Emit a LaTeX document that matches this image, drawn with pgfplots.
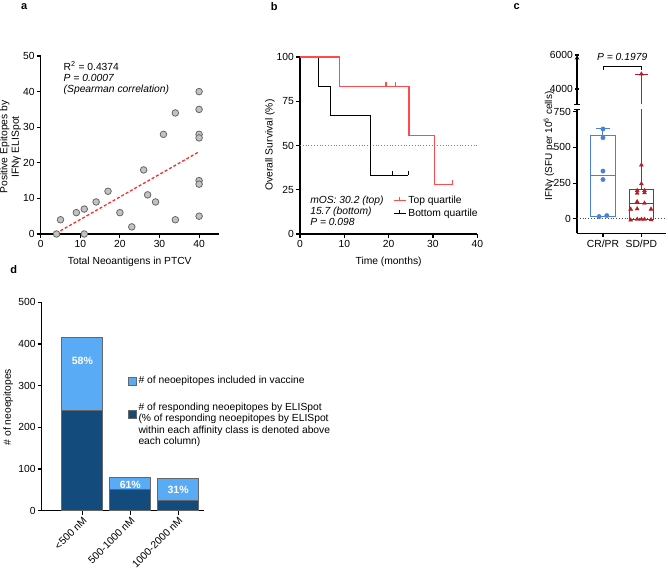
\documentclass[border=0pt]{standalone}
\usepackage{fontspec}
\setmainfont{Liberation Sans}
\usepackage{pgfplots}
\pgfplotsset{compat=1.18}
\definecolor{ptgray}{HTML}{C2C2C2}
\definecolor{trendred}{HTML}{FF2A2A}
\definecolor{kmred}{HTML}{FF4B4B}
\definecolor{cblue}{HTML}{4A80DC}
\definecolor{cred}{HTML}{B81C24}
\definecolor{lightb}{HTML}{5AABF5}
\definecolor{darkb}{HTML}{124B7C}
\pgfdeclareplotmark{cens}{\pgfpathmoveto{\pgfqpoint{0pt}{0pt}}\pgfpathlineto{\pgfqpoint{0pt}{4.5pt}}\pgfusepathqstroke}
\pgfplotsset{gp/.style={scale only axis, anchor=south west, axis lines=left,
  axis line style={-, line width=1.1pt}, tick align=outside, major tick length=4pt,
  tick style={line width=1.1pt, black}, clip=false,
  /pgf/number format/assume math mode=true, /pgf/number format/1000 sep={},
  yticklabel style={inner sep=2pt}, xticklabel style={inner sep=2.5pt}}}
\begin{document}
\fontsize{10.3}{11.5}\selectfont
\begin{tikzpicture}[x=1pt,y=1pt]
\useasboundingbox (0,0) rectangle (668,573);
% panel labels
\node[font=\fontsize{11}{12}\selectfont\bfseries] at (24.3,566.3) {a};
\node[font=\fontsize{11}{12}\selectfont\bfseries] at (274.3,566.3) {b};
\node[font=\fontsize{11}{12}\selectfont\bfseries] at (516.7,566) {c};
\node[font=\fontsize{11}{12}\selectfont\bfseries] at (13.7,303) {d};
% ---------------- panel a
\begin{axis}[gp, at={(40.7pt,339pt)}, width=178.2pt, height=178pt,
  xmin=0, xmax=45, ymin=0, ymax=50, xtick={0,10,...,40}, ytick={0,10,...,50}]
\addplot[trendred, line width=1.3pt, dash pattern=on 3pt off 2pt] coordinates {(5,0.9) (40,23.1)};
\addplot[only marks, mark=*, mark size=3.3pt, mark options={fill=ptgray, draw=black!60, line width=0.8pt}] coordinates {
(4,0) (5,4) (9,6) (11,7) (11,0) (14,9) (17,12) (20,6) (23,2) (26,18) (27,11) (29,9)
(31,28) (34,34) (34,4) (40,40) (40,35) (40,28) (40,27) (40,15) (40,14) (40,5)};
\node[anchor=west] at (axis cs:4.9,47.2) {R\textsuperscript{2} = 0.4374};
\node[anchor=west, font=\itshape] at (axis cs:4.9,43.9) {P = 0.0007};
\node[anchor=west, font=\itshape] at (axis cs:4.9,40.5) {(Spearman correlation)};
\end{axis}
\node[rotate=90, align=center] at (10.5,426) {Positive Epitopes by\\IFNγ ELISpot};
\node at (129.8,311) {Total Neoantigens in PTCV};
% ---------------- panel b
\begin{axis}[gp, at={(300pt,339pt)}, width=177.3pt, height=177pt,
  xmin=0, xmax=40, ymin=0, ymax=100, xtick={0,10,...,40}, ytick={0,25,...,100},
  legend style={draw=none, fill=none, at={(0.525,0.225)}, anchor=north west, inner sep=0pt, row sep=0pt,
    nodes={inner sep=2pt}}, legend cell align=left, reverse legend]
\addplot[gray, dotted, line width=0.8pt, forget plot] coordinates {(0,50) (40,50)};
\addplot[black, line width=1.1pt, legend image code/.code={\draw[line width=1.1pt] (0pt,0pt)--(12pt,0pt); \draw[line width=1.1pt] (6pt,0pt)--(6pt,4pt);}] coordinates {
(0,100) (4.1,100) (4.1,83.3) (6.9,83.3) (6.9,66.7) (15.9,66.7) (15.9,33.3) (24.4,33.3)};
\addlegendentry{Bottom quartile}
\addplot[kmred, line width=1.1pt, legend image code/.code={\draw[line width=1.1pt] (0pt,0pt)--(12pt,0pt); \draw[line width=1.1pt] (6pt,0pt)--(6pt,4pt);}] coordinates {
(0,100) (9,100) (9,83.3) (24.6,83.3) (24.6,55.6) (30.3,55.6) (30.3,27.8) (34.4,27.8)};
\addlegendentry{Top quartile}
\addplot[kmred, only marks, mark=cens, mark options={line width=1.1pt}, forget plot] coordinates {(19.4,83.3) (21.6,83.3) (34.4,27.8)};
\addplot[black, only marks, mark=cens, mark options={line width=1.1pt}, forget plot] coordinates {(20.9,33.3) (24.4,33.3)};
\node[anchor=west, font=\itshape] at (axis cs:1.5,18.6) {mOS: 30.2 (top)};
\node[anchor=west, font=\itshape] at (axis cs:1.5,12.4) {15.7 (bottom)};
\node[anchor=west, font=\itshape] at (axis cs:1.5,6.6) {P = 0.098};
\end{axis}
\node[rotate=90] at (270,428) {Overall Survival (\%)};
\node at (388.6,311) {Time (months)};
% ---------------- panel c (top part)
\begin{axis}[gp, at={(577pt,468.7pt)}, width=89pt, height=49.3pt,
  xmin=0.325, xmax=2.64, ymin=3100, ymax=6000, ytick={4000,6000},
  axis x line=none, axis y line=left]
\addplot[cred, line width=1pt] coordinates {(2,3100) (2,4880)};
\addplot[cred, line width=1pt] coordinates {(1.84,4880) (2.16,4880)};
\addplot[cred, only marks, mark=triangle*, mark size=2.3pt] coordinates {(2,4880)};
\draw[line width=0.9pt] (axis cs:1,5130) -- (axis cs:1,5300) -- (axis cs:2,5300) -- (axis cs:2,5130);
\node[font=\itshape] at (axis cs:1.5,5880) {P = 0.1979};
\draw[line width=1pt] ([xshift=-3pt]rel axis cs:0,0) -- ([xshift=3pt]rel axis cs:0,0);
\end{axis}
% ---------------- panel c (bottom part)
\begin{axis}[gp, at={(577pt,339.8pt)}, width=89pt, height=123.8pt,
  xmin=0.325, xmax=2.64, ymin=-100, ymax=765, ytick={0,250,500,750},
  xtick={1,2}, xticklabels={CR/PR,SD/PD}]
\addplot[black!70, dotted, line width=0.8pt] coordinates {(0.325,0) (2.64,0)};
% CR/PR box
\addplot[cblue, line width=1pt] coordinates {(0.67,20) (1.33,20) (1.33,581) (0.67,581) (0.67,20)};
\addplot[cblue, line width=1pt] coordinates {(0.67,305) (1.33,305)};
\addplot[cblue, line width=1pt] coordinates {(1,581) (1,628)};
\addplot[cblue, line width=1pt] coordinates {(0.81,628) (1.19,628)};
% SD/PD box
\addplot[cred, line width=1pt] coordinates {(1.68,-5) (2.32,-5) (2.32,205) (1.68,205) (1.68,-5)};
\addplot[cred, line width=1pt] coordinates {(1.68,105) (2.32,105)};
\addplot[cred, line width=1pt] coordinates {(2,205) (2,765)};
\addplot[cblue, only marks, mark=*, mark size=2.2pt] coordinates {
(1,628) (1,567) (1,334) (1,275) (0.9,16) (1.1,23)};
\addplot[cred, only marks, mark=triangle*, mark size=2.3pt] coordinates {
(2,376) (2,245) (1.89,198) (2.08,198) (1.89,180) (2.08,182) (1.89,120) (2.08,110)
(1.72,68) (1.89,70) (2.25,68) (1.72,-8) (1.89,-3) (2.0,-3) (2.08,-3) (2.25,-6)};
\draw[line width=1pt] ([xshift=-3pt]rel axis cs:0,1) -- ([xshift=3pt]rel axis cs:0,1);
\end{axis}
\node[rotate=90, font=\fontsize{10}{11}\selectfont] at (549,427) {IFNγ (SFU per 10\textsuperscript{6} cells)};
% ---------------- panel d
\begin{axis}[gp, at={(41.7pt,62.3pt)}, width=162.3pt, height=208.4pt,
  ybar stacked, bar width=41pt, xmin=-0.85, xmax=2.54, ymin=0, ymax=500,
  ytick={0,100,...,500}, xtick={0,1,2}, xticklabels={<500 nM,500-1000 nM,1000-2000 nM},
  xticklabel style={rotate=45, anchor=north east, inner sep=1pt},
  legend style={draw=none, fill=none, at={(0.53,0.655)}, anchor=north west, inner sep=0pt, row sep=13pt,
    nodes={inner sep=2pt}}, legend cell align=left, reverse legend]
\addplot[fill=darkb, draw=gray!80!black, line width=0.8pt,
  legend image code/.code={\draw[fill=darkb, draw=gray!80!black, line width=0.6pt] (0pt,-2.5pt) rectangle (8pt,5.5pt);}]
  coordinates {(0,241) (1,50) (2,24)};
\addlegendentry{\begin{tabular}{@{}l@{}}\# of responding neoepitopes by ELISpot\\(\% of responding neoepitopes by ELISpot\\within each affinity class is denoted above\\each column)\end{tabular}}
\addplot[fill=lightb, draw=gray!80!black, line width=0.8pt,
  legend image code/.code={\draw[fill=lightb, draw=gray!80!black, line width=0.6pt] (0pt,-4pt) rectangle (8pt,4pt);}]
  coordinates {(0,174) (1,30) (2,54)};
\addlegendentry{\# of neoepitopes included in vaccine}
\coordinate (pc1) at (axis cs:0,360);
\coordinate (pc2) at (axis cs:1,62);
\coordinate (pc3) at (axis cs:2,50);
\end{axis}
\node[white, font=\fontsize{10.5}{12}\selectfont\bfseries] at (pc1) {58\%};
\node[white, font=\fontsize{10.5}{12}\selectfont\bfseries] at (pc2) {61\%};
\node[white, font=\fontsize{10.5}{12}\selectfont\bfseries] at (pc3) {31\%};
\node[rotate=90] at (8.3,166) {\# of neoepitopes};
\end{tikzpicture}
\end{document}
